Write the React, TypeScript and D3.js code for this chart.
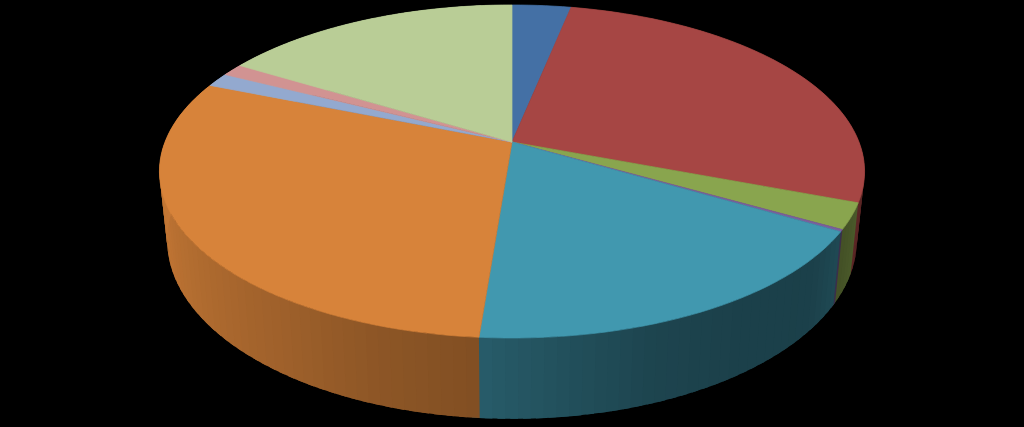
import React from "react";
import * as d3 from "d3";

const sliceNames = ["a", "b", "c", "d", "e", "f", "g", "h", "i"];
const sliceValues = [3.2, 27.55, 2.5, 0.2, 17.8, 29.85, 1.35, 1.2, 16.35];
const sliceColors = ["#4470a5", "#a64644", "#89a54e", "#7a5f9c", "#4198af", "#d7833a", "#93a9cf", "#d19392", "#b9cd96"];
const shadeAngles = [90, 110, 130, 145, 160, 172, 184, 200, 215, 250, 285];
const shadeFactors = [0.5, 0.55, 0.42, 0.42, 0.45, 0.52, 0.6, 0.66, 0.74, 0.88, 0.95];

const W = 1024, H = 427;
const cx = 512, R = 347, p = 0.177;
const topPlane = { y0: 142, k: 161.3, s: 1 };
const botPlane = { y0: 208.6, k: 173, s: 0.978 };

function project(theta: number, pl: { y0: number; k: number; s: number }): [number, number] {
  const X = Math.sin(theta), Z = Math.cos(theta), w = 1 + p * Z;
  return [cx + (pl.s * R * X) / w, pl.y0 - (pl.k * Z) / w];
}

const pieGen = d3.pie<number>().sort(null).startAngle(0).endAngle(2 * Math.PI);
const shade = d3.scaleLinear().domain(shadeAngles).range(shadeFactors).clamp(true);
const line = d3.line();
const STEP = Math.PI / 100;

function steps(a0: number, a1: number) {
  const n = Math.max(1, Math.ceil((a1 - a0) / STEP));
  return d3.range(n + 1).map((i) => a0 + ((a1 - a0) * i) / n);
}

export default function App() {
  const arcs = pieGen(sliceValues);
  const walls: { d: string; fill: string; key: string }[] = [];
  arcs.forEach((a, idx) => {
    const ts = steps(a.startAngle, a.endAngle);
    ts.slice(0, -1).forEach((t, i) => {
      const t2 = ts[i + 1];
      const over = t2 + STEP * 0.6;
      const deg = (((t + t2) / 2) * 180) / Math.PI;
      const f = shade(deg);
      const c = d3.rgb(sliceColors[idx]);
      const fill = d3.rgb(c.r * f, c.g * f, c.b * f).formatHex();
      const mid = (t + over) / 2;
      walls.push({
        key: `${idx}-${i}`,
        fill,
        d: line([project(t, topPlane), project(mid, topPlane), project(over, topPlane), project(over, botPlane), project(mid, botPlane), project(t, botPlane)])! + "Z",
      });
    });
  });
  return (
    <svg width={W} height={H} style={{ position: "fixed", left: 0, top: 0, background: "#000" }}>
      <rect width={W} height={H} fill="#000" />
      {walls.map((w) => (
        <path key={w.key} d={w.d} fill={w.fill} />
      ))}
      {arcs.map((a, idx) => {
        const pts: [number, number][] = [[cx, topPlane.y0], ...steps(a.startAngle, a.endAngle).map((t) => project(t, topPlane))];
        return <path key={sliceNames[idx]} d={line(pts)! + "Z"} fill={sliceColors[idx]} stroke={sliceColors[idx]} strokeWidth={0.7} strokeLinejoin="round" />;
      })}
    </svg>
  );
}
